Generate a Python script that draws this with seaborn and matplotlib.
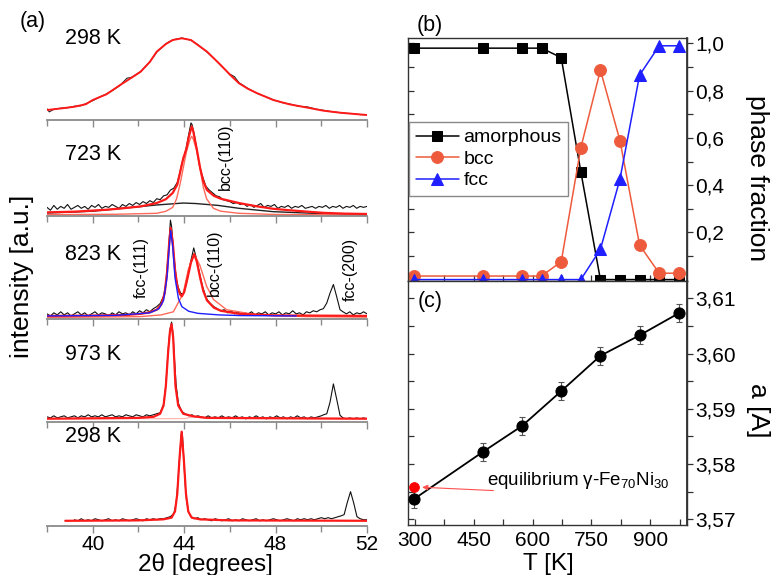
import matplotlib
matplotlib.use("Agg")
import matplotlib.pyplot as plt
import seaborn as sns
from matplotlib.ticker import FixedLocator, NullFormatter

# ---------------- (a) XRD patterns (intensity, a.u.) ----------------
# 298 K as-prepared (amorphous)
meas1_x = [38.0, 38.1, 38.3, 38.6, 38.9, 39.2, 39.5, 39.7, 40.0, 40.3, 40.6, 40.9, 41.2, 41.5, 41.7, 42.1,
           42.5, 42.8, 43.2, 43.5, 43.9, 44.3, 44.6, 45.0, 45.3, 45.6, 46.0, 46.2, 46.4, 46.8, 47.2, 47.6,
           47.9, 48.3, 48.6, 49.0, 49.4, 49.8, 50.1, 50.5, 50.8, 51.1, 51.4, 51.7, 52.0]
meas1_y = [11, 8, 10.5, 11.6, 12, 13.5, 14, 16, 19, 22.5, 25.5, 29.5, 34, 41, 41.8, 47.5,
           57, 66.5, 74.8, 78.6, 80.4, 78.2, 73.9, 66.6, 60.5, 53.5, 45, 42.5, 36.6, 30.8, 26, 22.5,
           19.8, 17, 15.8, 13.5, 12.8, 10.5, 9.5, 8, 7.3, 6.5, 6.3, 5.3, 5.2]
fit1_x = [38.0, 38.6, 39.2, 39.7, 40.0, 40.6, 41.2, 41.7, 42.1, 42.5, 42.8, 43.2, 43.5, 43.9, 44.3, 44.6,
          45.0, 45.6, 46.0, 46.4, 46.8, 47.2, 47.9, 48.6, 49.4, 50.1, 50.8, 51.4, 52.0]
fit1_y = [9.8, 11.3, 13.0, 15.5, 19.6, 25.2, 34.3, 41.5, 47.4, 57.0, 67.0, 74.5, 78.4, 80.1, 78.4, 73.5,
          67.0, 53.9, 44.5, 36.0, 30.5, 26.2, 19.6, 15.4, 12.1, 9.1, 7.2, 6.0, 4.9]

# 723 K
meas2_x = [38.0, 38.15, 38.3, 38.45, 38.6, 38.75, 38.9, 39.05, 39.2, 39.35, 39.5, 39.65, 39.8, 39.95, 40.1,
           40.25, 40.4, 40.55, 40.7, 40.85, 41.0, 41.15, 41.3, 41.45, 41.6, 41.75, 41.9, 42.05, 42.2, 42.35,
           42.5, 42.65, 42.8, 42.95, 43.1, 43.25, 43.4, 43.55, 43.7, 43.8, 43.9, 44.0, 44.1, 44.2, 44.3,
           44.35, 44.45, 44.55, 44.65, 44.75, 44.85, 44.95, 45.1, 45.25, 45.4, 45.55, 45.7, 45.85, 46.0,
           46.15, 46.3, 46.45, 46.6, 46.75, 46.9, 47.05, 47.2, 47.35, 47.5, 47.65, 47.8, 47.95, 48.1, 48.25,
           48.4, 48.55, 48.7, 48.85, 49.0, 49.15, 49.3, 49.45, 49.6, 49.75, 49.9, 50.05, 50.2, 50.35, 50.5,
           50.65, 50.8, 50.95, 51.1, 51.25, 51.4, 51.55, 51.7, 51.85, 52.0]
meas2_y = [9, 6, 11, 7, 10, 8, 12, 7, 9, 11, 8, 10, 7, 11, 9,
           12, 8, 10, 9, 12, 10, 8, 12, 10, 13, 11, 14, 12, 15, 13,
           16, 14, 18, 17, 21, 22, 27, 29, 35, 44, 55, 62, 72, 85, 97,
           95, 84, 70, 55, 45, 38, 31, 27, 24, 21, 20, 17, 16, 15,
           13, 14, 12, 13, 10, 12, 9, 11, 13, 9, 11, 10, 12, 8, 10,
           9, 11, 8, 10, 9, 11, 8, 9, 10, 8, 10, 9, 11, 8, 10,
           9, 11, 8, 10, 9, 11, 8, 10, 9, 10]
fit2_x = [38.0, 39.2, 40.6, 41.3, 42.1, 42.8, 43.2, 43.5, 43.7, 43.82, 43.96, 44.1, 44.2, 44.33, 44.4, 44.55,
          44.7, 44.84, 45.0, 45.3, 45.6, 46.4, 47.2, 47.9, 48.6, 49.4, 50.1, 51.0, 52.0]
fit2_y = [3.8, 4.5, 6.5, 8.0, 10.0, 13.5, 17.5, 24.0, 32.6, 45.0, 60.0, 70.0, 82.0, 93.4, 88.0, 70.0,
          50.0, 36.0, 27.0, 21.0, 18.0, 13.5, 10.0, 7.5, 6.0, 4.5, 3.3, 2.5, 2.1]
bcc2_x = [38.0, 41.0, 42.8, 43.2, 43.5, 43.67, 43.82, 43.96, 44.11, 44.26, 44.33, 44.4, 44.55, 44.69, 44.84,
          44.98, 45.28, 45.6, 46.4, 48.0, 52.0]
bcc2_y = [1.4, 1.8, 2.8, 4.9, 9.0, 18.0, 33.0, 50.0, 68.0, 80.0, 83.0, 80.0, 68.0, 50.0, 30.0,
          18.0, 8.0, 5.0, 2.8, 1.6, 1.0]
amor2_x = [38.0, 40.0, 41.3, 42.8, 43.96, 44.5, 45.5, 46.4, 47.9, 50.0, 52.0]
amor2_y = [3.1, 5.0, 8.0, 11.5, 13.5, 13.0, 11.0, 8.0, 4.5, 2.5, 1.4]

# 823 K
meas3_x = [38.0, 38.15, 38.3, 38.45, 38.6, 38.75, 38.9, 39.05, 39.2, 39.35, 39.5, 39.65, 39.8, 39.95, 40.1,
           40.25, 40.4, 40.55, 40.7, 40.85, 41.0, 41.15, 41.3, 41.45, 41.6, 41.75, 41.9, 42.05, 42.2, 42.35,
           42.5, 42.65, 42.8, 42.95, 43.1, 43.2, 43.3, 43.4, 43.45, 43.55, 43.65, 43.75, 43.85, 43.95, 44.05,
           44.15, 44.25, 44.35, 44.42, 44.5, 44.6, 44.7, 44.8, 44.9, 45.0, 45.15, 45.3, 45.45, 45.6, 45.75,
           45.9, 46.05, 46.2, 46.35, 46.5, 46.65, 46.8, 46.95, 47.1, 47.25, 47.4, 47.55, 47.7, 47.85, 48.0,
           48.15, 48.3, 48.45, 48.6, 48.75, 48.9, 49.05, 49.2, 49.35, 49.5, 49.65, 49.8, 49.95, 50.09, 50.24,
           50.38, 50.53, 50.67, 50.82, 50.95, 51.1, 51.25, 51.4, 51.55, 51.7, 51.85, 52.0]
meas3_y = [5, 3, 6, 4, 7, 4, 6, 3, 5, 7, 4, 6, 3, 5, 7,
           4, 6, 5, 3, 6, 4, 7, 5, 6, 4, 7, 5, 8, 6, 9,
           7, 10, 12, 15, 22, 35, 62, 96, 90, 62, 40, 30, 25, 24, 30,
           40, 52, 62, 69, 62, 52, 42, 32, 25, 19, 15, 12, 10, 8, 9,
           6, 8, 5, 7, 4, 6, 5, 7, 4, 6, 5, 7, 4, 6, 5,
           7, 4, 6, 5, 8, 5, 6, 4, 7, 6, 8, 7, 9, 10, 15.5,
           25, 33.5, 22, 9, 7, 5, 7, 4, 6, 5, 7, 5]
fit3_x = [38.0, 40.0, 41.5, 42.1, 42.5, 42.8, 43.0, 43.15, 43.25, 43.35, 43.41, 43.5, 43.6, 43.7, 43.82, 43.9,
          44.0, 44.1, 44.2, 44.3, 44.44, 44.55, 44.7, 44.84, 45.0, 45.3, 45.6, 46.4, 48.0, 52.0]
fit3_y = [3, 3.3, 4, 5, 6.5, 9, 14, 25, 45, 75, 88.5, 75, 48, 32, 24, 22,
          26, 35, 45, 55, 63, 56, 40, 27, 18, 11, 8, 5, 3.5, 3]
fcc3_x = [38.0, 41.0, 42.5, 42.9, 43.1, 43.25, 43.35, 43.41, 43.5, 43.6, 43.75, 43.9, 44.2, 44.6, 45.5, 46.5, 48.9]
fcc3_y = [3, 3.5, 6, 10, 18, 40, 70, 86, 70, 40, 20, 12, 7.5, 5.5, 4, 3.3, 3]
bcc3_x = [38.0, 42.07, 43.0, 43.53, 43.96, 44.18, 44.44, 44.69, 44.98, 45.28, 45.86, 47.17, 49.36, 52.0]
bcc3_y = [1.5, 2.3, 4, 7, 25, 48, 63, 52, 32, 19, 9, 4, 2.3, 1.8]

# 973 K
meas4_x = [38.0, 38.15, 38.3, 38.45, 38.6, 38.75, 38.9, 39.05, 39.2, 39.35, 39.5, 39.65, 39.8, 39.95, 40.1,
           40.25, 40.4, 40.55, 40.7, 40.85, 41.0, 41.15, 41.3, 41.45, 41.6, 41.75, 41.9, 42.05, 42.2, 42.35,
           42.5, 42.65, 42.8, 42.95, 43.1, 43.2, 43.3, 43.38, 43.45, 43.52, 43.58, 43.65, 43.75, 43.9, 44.05,
           44.2, 44.35, 44.45, 44.6, 44.75, 44.9, 45.05, 45.2, 45.35, 45.5, 45.65, 45.8, 45.95, 46.1, 46.25,
           46.4, 46.55, 46.7, 46.85, 47.0, 47.15, 47.3, 47.45, 47.6, 47.75, 47.9, 48.05, 48.2, 48.35, 48.5,
           48.65, 48.8, 48.95, 49.1, 49.25, 49.4, 49.55, 49.7, 49.85, 50.0, 50.1, 50.24, 50.38, 50.53, 50.67,
           50.82, 50.95, 51.1, 51.25, 51.4, 51.55, 51.7, 51.85, 52.0]
meas4_y = [5, 4, 6, 4, 5, 6, 4, 5, 6, 4, 6, 5, 7, 5, 6,
           5, 7, 5, 6, 7, 5, 6, 5, 7, 6, 5, 7, 6, 5, 7,
           6, 7, 8, 9, 17, 36, 70, 90, 97, 84, 60, 36, 18, 10, 8,
           6, 7, 5, 6, 5, 4, 6, 4, 5, 4, 6, 4, 5, 4, 6,
           4, 5, 3, 5, 4, 6, 4, 5, 3, 5, 4, 6, 4, 5, 3,
           5, 4, 6, 4, 5, 3, 5, 4, 5, 6, 7, 8, 19, 37, 22.6,
           6.5, 4, 3, 4, 3, 4, 3, 4, 3]
fit4_x = [38.0, 42.0, 42.66, 42.95, 43.1, 43.2, 43.3, 43.38, 43.45, 43.52, 43.55, 43.62, 43.74, 43.96, 44.4, 45.0, 52.0]
fit4_y = [3.2, 4, 5, 8, 16, 35, 68, 88, 95, 82, 68, 35, 16, 8, 5.5, 4, 3.2]
bcc4_x = [38.0, 44.0, 44.3, 44.45, 44.6, 45.0, 52.0]
bcc4_y = [3.0, 3.3, 4.5, 5.5, 4.5, 3.4, 3.0]

# 298 K after cooling
meas5_x = [39.2, 39.35, 39.5, 39.65, 39.8, 39.95, 40.1, 40.25, 40.4, 40.55, 40.7, 40.85, 41.0, 41.15, 41.3,
           41.45, 41.6, 41.75, 41.9, 42.05, 42.2, 42.35, 42.5, 42.65, 42.8, 42.95, 43.1, 43.25, 43.4, 43.55,
           43.65, 43.72, 43.8, 43.87, 43.92, 43.97, 44.03, 44.1, 44.2, 44.3, 44.45, 44.6, 44.75, 44.9, 45.05,
           45.2, 45.35, 45.5, 45.65, 45.8, 45.95, 46.1, 46.25, 46.4, 46.55, 46.7, 46.85, 47.0, 47.15, 47.3,
           47.45, 47.6, 47.75, 47.9, 48.05, 48.2, 48.35, 48.5, 48.65, 48.8, 48.95, 49.1, 49.25, 49.4, 49.55,
           49.7, 49.85, 50.0, 50.15, 50.3, 50.45, 50.6, 50.75, 50.9, 51.0, 51.13, 51.28, 51.42, 51.56, 51.7,
           51.85, 52.0]
meas5_y = [6, 5, 7, 5, 6, 5, 7, 6, 5, 6, 7, 5, 6, 5, 7,
           6, 5, 6, 7, 6, 5, 7, 6, 7, 6, 7, 7, 8, 9, 12,
           22, 40, 65, 88, 90, 70, 45, 25, 13, 9, 7, 8, 6, 7, 6,
           5, 7, 6, 5, 6, 7, 5, 6, 5, 7, 6, 5, 6, 7, 5,
           6, 5, 6, 7, 6, 5, 6, 7, 6, 5, 7, 6, 7, 6, 7,
           6, 7, 8, 7, 8, 7, 8, 9, 10, 11, 22, 33, 22, 9, 7,
           6, 6]
fit5_x = [38.8, 42.0, 43.09, 43.45, 43.6, 43.7, 43.79, 43.89, 43.99, 44.08, 44.18, 44.33, 44.69, 46.0, 52.0]
fit5_y = [5, 5.4, 6.4, 8, 14, 31, 63, 90.7, 63, 31, 14, 8, 6.4, 5.4, 5]

xrd_temps = ["298 K", "723 K", "823 K", "973 K", "298 K"]
two_theta_ticks = [40, 44, 48, 52]
two_theta_minor = [38, 42, 46, 50]

# ---------------- (b) phase fractions ----------------
T_phase = [298, 473, 573, 623, 673, 723, 773, 823, 873, 923, 973]
amorphous = [0.98, 0.98, 0.98, 0.98, 0.94, 0.457, 0.0, 0.0, 0.0, 0.0, 0.0]
bcc = [0.015, 0.015, 0.015, 0.015, 0.076, 0.558, 0.887, 0.588, 0.146, 0.027, 0.027]
fcc = [0.0, 0.0, 0.0, 0.0, 0.0, 0.0, 0.128, 0.426, 0.866, 0.99, 0.99]
phase_ticks = [0.2, 0.4, 0.6, 0.8, 1.0]
phase_ticklabels = ["0,2", "0,4", "0,6", "0,8", "1,0"]

# ---------------- (c) lattice parameter ----------------
T_a = [298, 473, 573, 673, 773, 873, 973]
a_val = [3.5737, 3.5822, 3.5869, 3.5932, 3.5996, 3.6033, 3.6073]
a_err = [0.0016, 0.0016, 0.0016, 0.0016, 0.0016, 0.0016, 0.0016]
T_eq = [298]
a_eq = [3.5759]
a_ticks = [3.57, 3.58, 3.59, 3.60, 3.61]
a_ticklabels = ["3,57", "3,58", "3,59", "3,60", "3,61"]
T_ticks = [300, 450, 600, 750, 900]

# ---------------- style ----------------
sns.set_theme(style="white")
plt.rcParams['font.family'] = ['Liberation Sans', 'DejaVu Sans']
plt.rcParams['mathtext.fontset'] = 'custom'
plt.rcParams['mathtext.rm'] = 'Liberation Sans'
plt.rcParams['mathtext.it'] = 'Liberation Sans:italic'
plt.rcParams['mathtext.bf'] = 'Liberation Sans:bold'
for k in ['text.color', 'axes.labelcolor', 'xtick.labelcolor', 'ytick.labelcolor']:
    plt.rcParams[k] = 'black'

W, H = 777, 575
fig = plt.figure(figsize=(W / 100, H / 100), dpi=100)


def rect(l, t, r, b):
    return [l / W, 1 - b / H, (r - l) / W, (b - t) / H]


def ftext(px, py, s, **kw):
    fig.text(px / W, 1 - py / H, s, **kw)


def line(ax, xs, ys, color, lw, z=2):
    sns.lineplot(x=xs, y=ys, ax=ax, color=color, linewidth=lw, estimator=None,
                 sort=False, legend=False, zorder=z)


RED = "#ff1a1a"
THINRED = "#ff6a5a"
BLUE = "#1f1fff"
GRAY = "#8a8a8a"

bounds = [(18, 120), (120, 216), (216, 319), (319, 422), (422, 526)]
left_axes = []
for i, (t, b) in enumerate(bounds):
    ax = fig.add_axes(rect(47, t, 367, b))
    ax.set_xlim(38, 52)
    ax.set_ylim(0, 100)
    for s in ["top", "left", "right"]:
        ax.spines[s].set_visible(False)
    ax.spines["bottom"].set_color(GRAY)
    ax.spines["bottom"].set_linewidth(1.3)
    ax.patch.set_alpha(0)
    ax.set_yticks([])
    ax.xaxis.set_major_locator(FixedLocator(two_theta_ticks))
    ax.xaxis.set_minor_locator(FixedLocator(two_theta_minor))
    ax.tick_params(axis="x", which="both", direction="out", color=GRAY, width=1.0,
                   bottom=True, labelsize=15, pad=1.5, labelcolor="black")
    ax.tick_params(axis="x", which="major", length=5)
    ax.tick_params(axis="x", which="minor", length=4)
    if i < 4:
        ax.tick_params(axis="x", labelbottom=False)
    ax.set_xlabel("")
    ax.set_ylabel("")
    left_axes.append(ax)

a1, a2, a3, a4, a5 = left_axes
line(a1, meas1_x, meas1_y, "#222222", 0.8)
line(a1, fit1_x, fit1_y, RED, 1.4, 3)

line(a2, meas2_x, meas2_y, "#111111", 0.8)
line(a2, amor2_x, amor2_y, "#222222", 1.0)
line(a2, bcc2_x, bcc2_y, THINRED, 1.0)
line(a2, fit2_x, fit2_y, RED, 1.6, 3)

line(a3, meas3_x, meas3_y, "#111111", 0.8)
line(a3, bcc3_x, bcc3_y, THINRED, 1.0)
line(a3, fit3_x, fit3_y, RED, 1.6, 3)
line(a3, fcc3_x, fcc3_y, BLUE, 1.0, 4)

line(a4, meas4_x, meas4_y, "#111111", 0.8)
line(a4, bcc4_x, bcc4_y, "#ffb0a8", 0.8)
line(a4, fit4_x, fit4_y, RED, 1.6, 3)

line(a5, meas5_x, meas5_y, "#111111", 0.8)
line(a5, fit5_x, fit5_y, RED, 1.6, 3)

for (py, s) in zip([38, 155, 255, 355, 436], xrd_temps):
    ftext(65, py, s, fontsize=15.5, ha="left", va="center")

ann = dict(fontsize=11.5, rotation=90, ha="center", va="center")
ftext(225, 157, "bcc-(110)", **ann)
ftext(141, 268, "fcc-(111)", **ann)
ftext(214, 263, "bcc-(110)", **ann)
ftext(350, 269, "fcc-(200)", **ann)

ftext(33, 22, "(a)", fontsize=15.5, ha="center", va="center")
ftext(22, 276, "intensity [a.u.]", fontsize=19, rotation=90, ha="center", va="center")
ftext(205, 564, "2θ [degrees]", fontsize=17.5, ha="center", va="center")

# ---------------- (b) ----------------
FRAME = "#333333"
BCC_C = "#ee5a3c"
axb = fig.add_axes(rect(408, 38, 687, 281))
axc = fig.add_axes(rect(408, 281, 687, 525))
for ax in (axb, axc):
    for s in ax.spines.values():
        s.set_color(FRAME)
        s.set_linewidth(1.0)
    ax.set_xlim(282, 994)
    ax.xaxis.set_major_locator(FixedLocator(T_ticks))
    ax.xaxis.set_minor_locator(FixedLocator([375, 525, 675, 825, 975]))
    ax.tick_params(axis="both", which="both", direction="in", length=4, width=0.9,
                   color=FRAME, left=True, bottom=True, right=False, top=False,
                   labelleft=False, labelsize=15, labelcolor="black")

sns.lineplot(x=T_phase, y=amorphous, ax=axb, color="black", linewidth=1.1, marker="s",
             markersize=6.5, markeredgecolor="black", label="amorphous", estimator=None, sort=False)
sns.lineplot(x=T_phase, y=bcc, ax=axb, color=BCC_C, linewidth=1.1, marker="o",
             markersize=8.5, markeredgecolor=BCC_C, label="bcc", estimator=None, sort=False)
sns.lineplot(x=T_phase, y=fcc, ax=axb, color=BLUE, linewidth=1.1, marker="^",
             markersize=8.5, markeredgecolor=BLUE, label="fcc", estimator=None, sort=False)
axb.set_ylim(-0.006, 1.023)
axb.yaxis.set_major_locator(FixedLocator(phase_ticks))
axb.yaxis.set_minor_locator(FixedLocator([0.1, 0.3, 0.5, 0.7, 0.9]))
axb.tick_params(axis="x", labelbottom=False)
axb.set_xlabel("")
axb.set_ylabel("")
secb = axb.secondary_yaxis("right")
secb.set_yticks(phase_ticks, labels=phase_ticklabels)
secb.yaxis.set_minor_locator(FixedLocator([0.1, 0.3, 0.5, 0.7, 0.9]))
secb.yaxis.set_minor_formatter(NullFormatter())
secb.tick_params(axis="y", which="both", direction="out", length=4, width=0.9, color=FRAME,
                 labelsize=15, pad=2, labelcolor="black")
secb.spines["right"].set_color(FRAME)
leg = axb.legend(loc="upper left", bbox_to_anchor=(0.004, 0.654), borderaxespad=0,
                 fancybox=False, edgecolor="#888888", framealpha=1, fontsize=14,
                 handlelength=2.2, handletextpad=0.25, labelspacing=0.2, borderpad=0.35)
leg.get_frame().set_linewidth(1.0)
ftext(430, 25, "(b)", fontsize=15.5, ha="center", va="center")
ftext(757, 178, "phase fraction", fontsize=19, rotation=270, ha="center", va="center")

# ---------------- (c) ----------------
axc.errorbar(T_a, a_val, yerr=a_err, fmt="none", ecolor="#555555", elinewidth=0.8,
             capsize=2.2, capthick=0.8, zorder=2)
sns.lineplot(x=T_a, y=a_val, ax=axc, color="black", linewidth=1.3, marker="o",
             markersize=8, markeredgecolor="black", estimator=None, sort=False, legend=False, zorder=3)
sns.scatterplot(x=T_eq, y=a_eq, ax=axc, color="#ff0000", s=50, edgecolor="#ff0000",
                legend=False, zorder=4)
axc.annotate("", xy=(318, 3.5758), xytext=(500, 3.5752),
             arrowprops=dict(arrowstyle="-|>", color="#ff5050", lw=0.8, mutation_scale=8,
                             shrinkA=0, shrinkB=0))
axc.text(484, 3.5771, "equilibrium γ-Fe$_{70}$Ni$_{30}$", fontsize=13.5, ha="left", va="center")
axc.set_ylim(3.56897, 3.61313)
axc.yaxis.set_major_locator(FixedLocator(a_ticks))
axc.yaxis.set_minor_locator(FixedLocator([3.575, 3.585, 3.595, 3.605]))
axc.set_xticks(T_ticks, labels=[str(t) for t in T_ticks])
axc.tick_params(axis="x", labelbottom=True, labelsize=15, pad=4)
axc.set_xlabel("")
axc.set_ylabel("")
secc = axc.secondary_yaxis("right")
secc.set_yticks(a_ticks, labels=a_ticklabels)
secc.yaxis.set_minor_locator(FixedLocator([3.575, 3.585, 3.595, 3.605]))
secc.yaxis.set_minor_formatter(NullFormatter())
secc.tick_params(axis="y", which="both", direction="out", length=4, width=0.9, color=FRAME,
                 labelsize=15, pad=2, labelcolor="black")
ftext(430, 301, "(c)", fontsize=15.5, ha="center", va="center")
ftext(758, 410, "a [A]", fontsize=19, rotation=270, ha="center", va="center")
ftext(548, 564, "T [K]", fontsize=17.5, ha="center", va="center")

fig.savefig("out.png", dpi=100)
